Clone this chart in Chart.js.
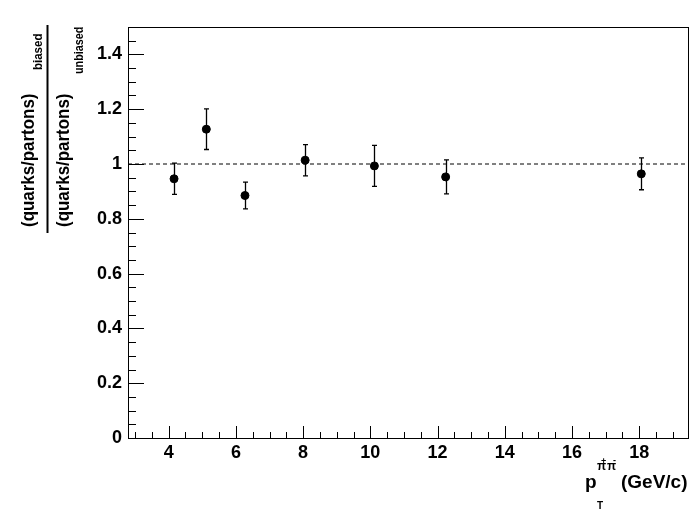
<!DOCTYPE html>
<html>
<head>
<meta charset="utf-8">
<script src="https://cdn.jsdelivr.net/npm/chart.js@4.4.1/dist/chart.umd.min.js"></script>
<style>
  html, body { margin: 0; padding: 0; background: #fff; }
  #wrap { width: 700px; height: 514px; }
</style>
</head>
<body>
<div id="wrap"><canvas id="chart" width="700" height="514"></canvas></div>
<script>
// measured points (pT of the pi+pi- pair vs ratio)
var ptValues = [4.16, 5.12, 6.27, 8.06, 10.12, 12.24, 18.06];
var ratioValues = [0.946, 1.127, 0.885, 1.014, 0.993, 0.953, 0.964];
var ratioErrors = [0.057, 0.074, 0.049, 0.057, 0.075, 0.062, 0.058];

var xTicks = [4, 6, 8, 10, 12, 14, 16, 18];
var xTickLabels = ['4', '6', '8', '10', '12', '14', '16', '18'];
var yTicks = [0, 0.2, 0.4, 0.6, 0.8, 1, 1.2, 1.4];
var yTickLabels = ['0', '0.2', '0.4', '0.6', '0.8', '1', '1.2', '1.4'];
var xRange = [2.79, 19.45];
var yRange = [0, 1.5];
var refLevel = 1;

var FONT = '"Liberation Sans", Arial, Helvetica, sans-serif';

var points = ptValues.map(function(x, i) { return { x: x, y: ratioValues[i] }; });
var refLine = [{ x: xRange[0], y: refLevel }, { x: xRange[1], y: refLevel }];

var rootPlugin = {
    id: 'rootStyle',
    beforeDatasetsDraw: function(chart) {
        var ctx = chart.ctx;
        var xs = chart.scales.x, ys = chart.scales.y;
        ctx.save();
        ctx.strokeStyle = '#000';
        ctx.lineWidth = 1.3;
        for (var i = 0; i < ptValues.length; i++) {
            var px = Math.round(xs.getPixelForValue(ptValues[i])) + 0.5;
            var top = ys.getPixelForValue(ratioValues[i] + ratioErrors[i]);
            var bot = ys.getPixelForValue(ratioValues[i] - ratioErrors[i]);
            ctx.beginPath();
            ctx.moveTo(px, top); ctx.lineTo(px, bot);
            ctx.moveTo(px - 2.5, top); ctx.lineTo(px + 2.5, top);
            ctx.moveTo(px - 2.5, bot); ctx.lineTo(px + 2.5, bot);
            ctx.stroke();
        }
        ctx.restore();
    },
    afterDraw: function(chart) {
        var ctx = chart.ctx;
        var a = chart.chartArea;
        var xs = chart.scales.x, ys = chart.scales.y;
        ctx.save();
        ctx.strokeStyle = '#000';
        ctx.lineWidth = 1;
        // frame
        ctx.strokeRect(Math.round(a.left) + 0.5, Math.round(a.top) + 0.5,
            Math.round(a.right - a.left), Math.round(a.bottom - a.top));

        // inward ticks, x
        ctx.beginPath();
        for (var v = 3; v <= 19.001; v += 0.5) {
            var px = Math.round(xs.getPixelForValue(v)) + 0.5;
            var major = xTicks.indexOf(v) >= 0;
            ctx.moveTo(px, a.bottom);
            ctx.lineTo(px, a.bottom - (major ? 12 : 6));
        }
        // inward ticks, y
        for (var k = 0; k <= 30; k++) {
            var yv = k * 0.05;
            var py = Math.round(ys.getPixelForValue(yv)) + 0.5;
            var isMajor = k % 4 === 0;
            ctx.moveTo(a.left, py);
            ctx.lineTo(a.left + (isMajor ? 16 : 8), py);
        }
        ctx.stroke();

        ctx.fillStyle = '#000';
        ctx.textAlign = 'left';
        ctx.textBaseline = 'alphabetic';

        // y title: fraction, rotated
        function vtext(str, x, y, size, squeeze) {
            ctx.save();
            ctx.translate(x, y);
            ctx.rotate(-Math.PI / 2);
            ctx.scale(squeeze, 1);
            ctx.font = 'bold ' + size + 'px ' + FONT;
            ctx.fillText(str, 0, 0);
            ctx.restore();
        }
        vtext('(quarks/partons)', 34, 227, 19, 0.89);
        vtext('biased', 42, 70, 12.5, 0.92);
        vtext('(quarks/partons)', 69, 227, 19, 0.89);
        vtext('unbiased', 83, 74, 12, 0.9);
        ctx.lineWidth = 2;
        ctx.beginPath();
        ctx.moveTo(47.5, 25);
        ctx.lineTo(47.5, 233);
        ctx.stroke();

        // x title
        ctx.font = 'bold 19px ' + FONT;
        ctx.fillText('p', 585, 488);
        ctx.font = 'bold 10px ' + FONT;
        ctx.fillText('T', 597, 509);
        ctx.font = 'bold 12px ' + FONT;
        ctx.fillText('\u03c0', 597, 470);
        ctx.fillText('\u03c0', 607, 470);
        ctx.font = 'bold 9px ' + FONT;
        ctx.fillText('+', 601, 464);
        ctx.fillText('-', 613, 463);
        ctx.font = 'bold 19px ' + FONT;
        ctx.fillText('(GeV/c)', 621, 488);
        ctx.restore();
    }
};

var ctx = document.getElementById('chart').getContext('2d');
var myChart = new Chart(ctx, {
    type: 'scatter',
    data: {
        datasets: [{
            type: 'line',
            data: refLine,
            borderColor: '#000',
            borderWidth: 1,
            borderDash: [4, 3],
            pointRadius: 0,
            fill: false
        }, {
            data: points,
            backgroundColor: '#000',
            borderColor: '#000',
            borderWidth: 1,
            pointRadius: 4,
            pointHoverRadius: 4
        }]
    },
    options: {
        responsive: false,
        animation: false,
        events: [],
        layout: { padding: { left: 0, top: 27, right: 12, bottom: 0 } },
        plugins: {
            legend: { display: false },
            tooltip: { enabled: false }
        },
        scales: {
            x: {
                type: 'linear',
                min: xRange[0],
                max: xRange[1],
                grid: { display: false, drawTicks: false },
                border: { display: false },
                afterBuildTicks: function(scale) {
                    scale.ticks = xTicks.map(function(v) { return { value: v }; });
                },
                afterFit: function(scale) { scale.height = 76; },
                ticks: {
                    autoSkip: false,
                    maxRotation: 0,
                    padding: 4,
                    color: '#000',
                    font: { family: FONT, size: 18, weight: 'bold' },
                    callback: function(value) {
                        return xTickLabels[xTicks.indexOf(value)];
                    }
                }
            },
            y: {
                type: 'linear',
                min: yRange[0],
                max: yRange[1],
                grid: { display: false, drawTicks: false },
                border: { display: false },
                afterBuildTicks: function(scale) {
                    scale.ticks = yTicks.map(function(v) { return { value: v }; });
                },
                afterFit: function(scale) { scale.width = 128; },
                ticks: {
                    autoSkip: false,
                    padding: 6,
                    color: '#000',
                    font: { family: FONT, size: 18, weight: 'bold' },
                    callback: function(value) {
                        return yTickLabels[yTicks.indexOf(value)];
                    }
                }
            }
        }
    },
    plugins: [rootPlugin]
});
</script>
</body>
</html>
